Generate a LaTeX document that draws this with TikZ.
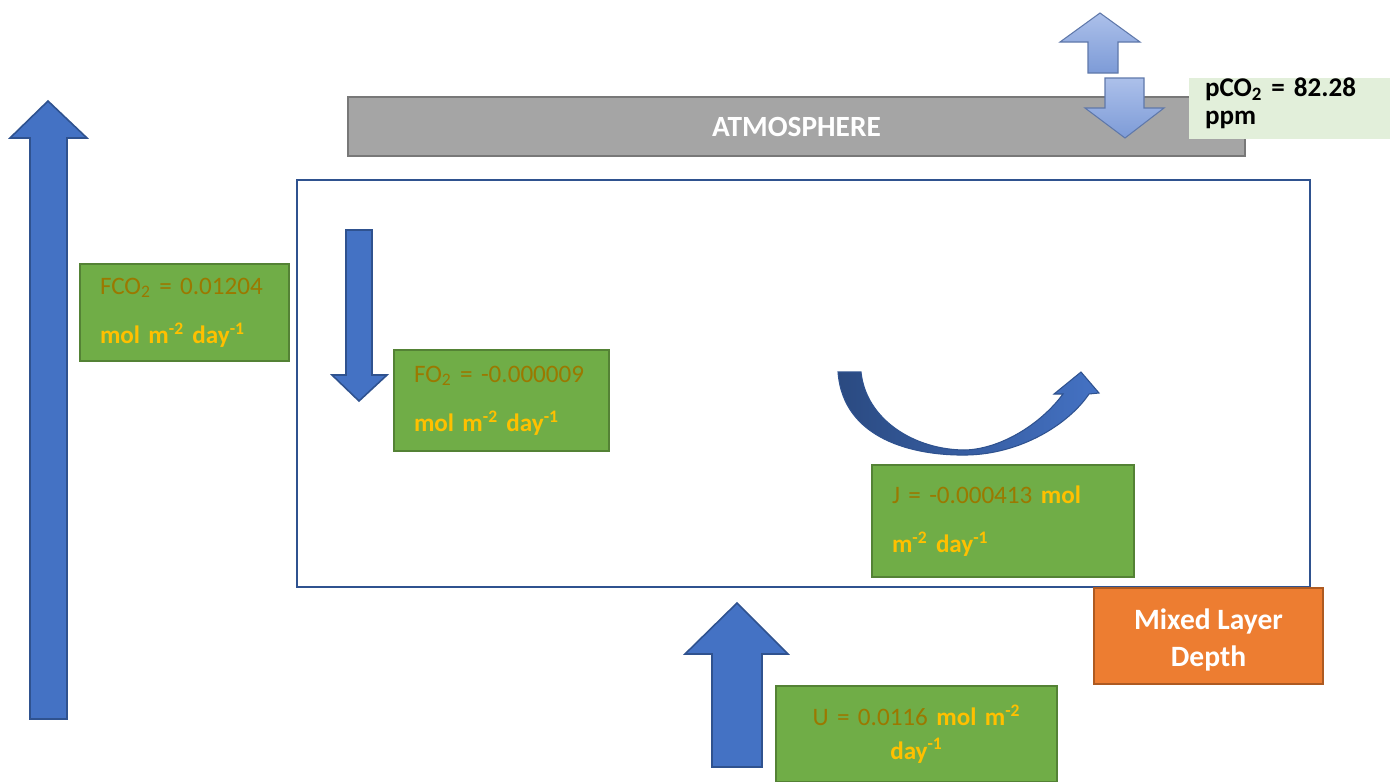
\documentclass[tikz,border=0pt]{standalone}
\usepackage{fontspec}
\setmainfont{Carlito}
\usetikzlibrary{positioning,calc}
\definecolor{ArrowBlue}{RGB}{68,114,196}
\definecolor{ArrowEdge}{RGB}{47,82,143}
\definecolor{LeafGreen}{RGB}{112,173,71}
\definecolor{LeafEdge}{RGB}{84,130,53}
\definecolor{GoldText}{RGB}{255,192,0}
\definecolor{OliveText}{RGB}{155,120,0}
\definecolor{AtmoGray}{RGB}{165,165,165}
\definecolor{AtmoEdge}{RGB}{120,120,120}
\definecolor{DepthOrange}{RGB}{237,125,49}
\definecolor{DepthEdge}{RGB}{174,90,33}
\definecolor{PaleGreen}{RGB}{226,239,218}
\definecolor{SkyTop}{RGB}{172,192,234}
\definecolor{SkyBottom}{RGB}{125,155,215}
\definecolor{SkyEdge}{RGB}{95,120,170}
\newcommand{\pxu}{0.02cm}
\newcommand{\olv}[1]{{\mdseries\color{OliveText}#1}}
\tikzset{
  blockarrow/.style={fill=ArrowBlue,draw=ArrowEdge,line width=0.9pt},
  airarrow/.style={top color=SkyTop,bottom color=SkyBottom,draw=SkyEdge,line width=0.6pt},
  fluxbox/.style={draw=LeafEdge,fill=LeafGreen,line width=1pt,text=GoldText,
    font=\fontsize{14.3}{17}\selectfont\bfseries,inner xsep=20*\pxu,inner ysep=0pt,align=left},
  layerbox/.style={draw=ArrowEdge,fill=white,line width=0.9pt},
}
\begin{document}
\begin{tikzpicture}[x=0.02cm,y=-0.02cm]
\useasboundingbox (0,0) rectangle (1395,781);
% atmosphere bar
\node[draw=AtmoEdge,fill=AtmoGray,line width=1pt,minimum width=897*\pxu,minimum height=59*\pxu,
  text=white,font=\fontsize{16.7}{20}\selectfont\bfseries] (atmo) at (796.5,126.5) {ATMOSPHERE};
% mixed layer
\draw[layerbox] (297,180) rectangle (1310,587);
% air-sea exchange arrows
\draw[airarrow] (1088,73) -- (1088,42) -- (1060,42) -- (1100,13) -- (1140,42) -- (1118,42) -- (1118,73) -- cycle;
\draw[airarrow] (1105,78) -- (1144,78) -- (1144,108) -- (1164,108) -- (1125,138) -- (1085,108) -- (1105,108) -- cycle;
\node[fill=PaleGreen,minimum width=201*\pxu,minimum height=61*\pxu] (pco2) at (1289.5,108.5) {};
\node[text width=169*\pxu,align=left,font=\fontsize{15.4}{16}\selectfont\bfseries]
  (pco2txt) at ($(pco2.center)+(0,-5)$) {pCO\textsubscript{2} = 82.28\\ppm};
% big arrows
\draw[blockarrow] (30,719) -- (30,138) -- (10,138) -- (48,101) -- (87,138) -- (67,138) -- (67,719) -- cycle;
\draw[blockarrow] (346,230) -- (372,230) -- (372,375) -- (387,375) -- (359,401) -- (332,375) -- (346,375) -- cycle;
\draw[blockarrow] (712,767) -- (712,654) -- (685,654) -- (737,603) -- (788,654) -- (762,654) -- (762,767) -- cycle;
% curved arrow
\draw[left color=ArrowEdge!90!black,right color=ArrowBlue,draw=ArrowEdge,line width=0.6pt]
  (838,372) .. controls (843,440) and (915,456) .. (967,455)
  .. controls (1020,454) and (1068,425) .. (1089,394) -- (1099,393) -- (1081,372) -- (1054,394) -- (1063,394)
  .. controls (1040,425) and (1000,449) .. (965,450)
  .. controls (915,450) and (866,420) .. (861,372) -- cycle;
% flux boxes
\node[fluxbox,minimum width=209*\pxu,minimum height=97*\pxu,text width=169*\pxu] (fco2) at (184.5,312.5)
  {\olv{FCO\textsubscript{2} = 0.01204}\\[11pt]mol m\textsuperscript{-2} day\textsuperscript{-1}};
\node[fluxbox,minimum width=215*\pxu,minimum height=101*\pxu,text width=175*\pxu] (fo2) at (501.5,400.5)
  {\olv{FO\textsubscript{2} = -0.000009}\\[11pt]mol m\textsuperscript{-2} day\textsuperscript{-1}};
\node[fluxbox,minimum width=262*\pxu,minimum height=112*\pxu,text width=222*\pxu] (jflux) at (1003,521)
  {\olv{J = -0.000413} mol\\[11pt]m\textsuperscript{-2} day\textsuperscript{-1}};
\node[fluxbox,minimum width=281*\pxu,minimum height=96*\pxu,text width=241*\pxu,align=center] (uflux) at (916.5,734)
  {\olv{U = 0.0116} mol m\textsuperscript{-2}\\[2pt]day\textsuperscript{-1}};
% mixed layer depth
\node[draw=DepthEdge,fill=DepthOrange,line width=1pt,minimum width=229*\pxu,minimum height=96*\pxu] (depth) at (1208.5,636) {};
\node[text=white,align=center,font=\fontsize{16.8}{21.5}\selectfont\bfseries]
  (depthtxt) at ($(depth.center)+(0,4)$) {Mixed Layer\\Depth};
\end{tikzpicture}
\end{document}
